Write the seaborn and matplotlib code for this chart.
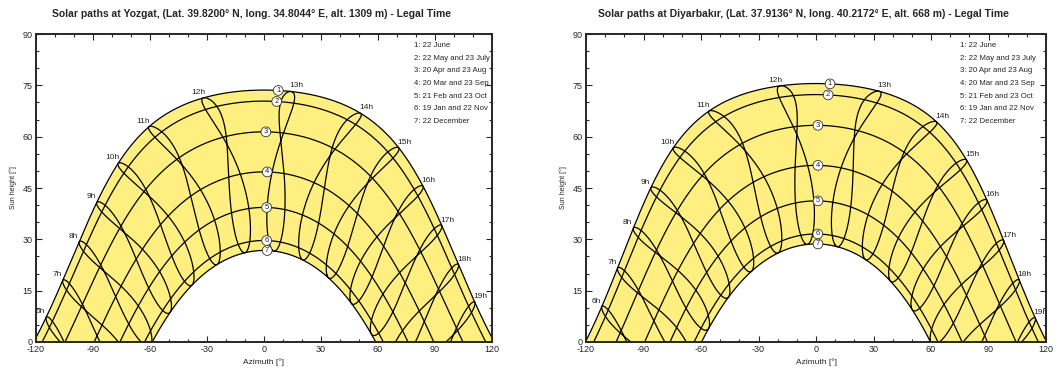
import numpy as np
import pandas as pd
import matplotlib
matplotlib.use("Agg")
import matplotlib.pyplot as plt
from matplotlib.ticker import MultipleLocator
import seaborn as sns

# ---------------- data ----------------
site_names = ["Yozgat", "Diyarbakır"]
site_lat = [39.8200, 37.9136]
site_lon = [34.8044, 40.2172]
site_elev = [1309, 668]
utc_offset_h = 3  # legal time in Turkey

date_numbers = ["1", "2", "3", "4", "5", "6", "7"]
date_day_of_year = [173, 142, 110, 79, 52, 19, 356]
date_legend = ["1: 22 June", "2: 22 May and 23 July", "3: 20 Apr and 23 Aug",
               "4: 20 Mar and 23 Sep", "5: 21 Feb and 23 Oct",
               "6: 19 Jan and 22 Nov", "7: 22 December"]
legal_hours = [6, 7, 8, 9, 10, 11, 12, 13, 14, 15, 16, 17, 18, 19]
hour_labels = [f"{h}h" for h in legal_hours]
# azimuth at which the date-number bubbles sit
bubble_az_yozgat = [7.5, 6.7, 1.0, 1.7, 1.4, 1.4, 1.7]
bubble_az_diyarbakir = [7.3, 6.3, 1.0, 1.0, 1.0, 0.9, 1.0]
bubble_az = [bubble_az_yozgat, bubble_az_diyarbakir]

FILL = "#FEEF80"

# ---------------- solar geometry ----------------
def sun_position(lat, lon, day, legal_h):
    B = 2 * np.pi * (np.asarray(day) - 1) / 365.0
    decl = (0.006918 - 0.399912 * np.cos(B) + 0.070257 * np.sin(B)
            - 0.006758 * np.cos(2 * B) + 0.000907 * np.sin(2 * B)
            - 0.002697 * np.cos(3 * B) + 0.00148 * np.sin(3 * B))
    eot = 229.18 * (0.000075 + 0.001868 * np.cos(B) - 0.032077 * np.sin(B)
                    - 0.014615 * np.cos(2 * B) - 0.040849 * np.sin(2 * B))
    solar_t = np.asarray(legal_h) - utc_offset_h + lon / 15.0 + eot / 60.0
    H = np.radians(15.0 * (solar_t - 12.0))
    phi = np.radians(lat)
    sin_alt = np.sin(phi) * np.sin(decl) + np.cos(phi) * np.cos(decl) * np.cos(H)
    alt = np.degrees(np.arcsin(sin_alt))
    az = np.degrees(np.arctan2(np.sin(H), np.cos(H) * np.sin(phi) - np.tan(decl) * np.cos(phi)))
    return az, alt


sns.set_style("ticks")
plt.rcParams["font.family"] = ["Liberation Sans", "DejaVu Sans"]
plt.rcParams["axes.unicode_minus"] = False

fig = plt.figure(figsize=(10.58, 3.71), dpi=100)
ax_rects = [[0.034, 0.0782, 0.431, 0.830], [0.5539, 0.0782, 0.4348, 0.830]]

for k in range(2):
    lat, lon = site_lat[k], site_lon[k]
    ax = fig.add_axes(ax_rects[k])

    rows = []
    t = np.linspace(2.0, 23.0, 1500)
    date_curves = []
    for i, d in enumerate(date_day_of_year):
        az, alt = sun_position(lat, lon, np.full_like(t, d), t)
        m = alt > -3
        date_curves.append((az[m], alt[m]))
        rows.append(pd.DataFrame({"az": az[m], "alt": alt[m], "curve": f"d{i}"}))
    days = np.linspace(1, 366, 1461)
    ana = []
    for h in legal_hours:
        az, alt = sun_position(lat, lon, days, np.full(days.shape, float(h)))
        ana.append((az, alt))
        rows.append(pd.DataFrame({"az": az, "alt": alt, "curve": f"h{h}"}))
    df = pd.concat(rows, ignore_index=True)

    # yellow region between June and December paths
    jaz, jalt = date_curves[0]
    daz, dalt = date_curves[-1]
    grid = np.linspace(-125, 125, 2000)
    upper = np.clip(np.interp(grid, jaz, jalt), 0, None)
    lower = np.clip(np.interp(grid, daz, dalt, left=0, right=0), 0, None)
    ax.fill_between(grid, lower, upper, color=FILL, lw=0, zorder=1)

    sns.lineplot(data=df, x="az", y="alt", units="curve", estimator=None,
                 sort=False, color="black", lw=0.9, ax=ax, zorder=2, legend=False)

    # date bubbles
    for i, lab in enumerate(date_numbers):
        caz, calt = date_curves[i]
        a = bubble_az[k][i]
        y = np.interp(a, caz, calt)
        ax.text(a, y, lab, fontsize=5.5, ha="center", va="center", zorder=5,
                bbox=dict(boxstyle="circle,pad=0.18", fc="white", ec="#333333", lw=0.6))

    # hour labels at June 22 point
    june_idx = int(np.argmin(np.abs(days - date_day_of_year[0])))
    for h, lab, (az, alt) in zip(legal_hours, hour_labels, ana):
        x, y = az[june_idx], alt[june_idx]
        if alt.max() < 0:
            continue
        dx = -4 if x < 0 else 4
        ax.annotate(lab, (x, y), xytext=(dx, 1.5), textcoords="offset points",
                    ha="center", va="bottom", fontsize=6, zorder=6)

    # legend of dates
    lx = 0.83 if k == 0 else 0.813
    for i, txt in enumerate(date_legend):
        ax.text(lx, 0.963 - i * 0.0412, txt, transform=ax.transAxes, fontsize=5.6,
                ha="left", va="center", zorder=6)

    ax.set_xlim(-120, 120)
    ax.set_ylim(0, 90)
    ax.xaxis.set_major_locator(MultipleLocator(30))
    ax.xaxis.set_minor_locator(MultipleLocator(10))
    ax.yaxis.set_major_locator(MultipleLocator(15))
    ax.yaxis.set_minor_locator(MultipleLocator(5))
    ax.tick_params(which="both", direction="in", top=True, right=True,
                   labelsize=6.5, width=0.8, pad=2.5)
    ax.tick_params(which="major", length=4)
    ax.tick_params(which="minor", length=2.5)
    for s in ax.spines.values():
        s.set_linewidth(1.4)
        s.set_zorder(10)
    ax.set_xlabel("Azimuth [°]", fontsize=6)
    ax.set_ylabel("Sun height [°]", fontsize=5)
    ax.xaxis.set_label_coords(0.5, -0.052)
    ax.yaxis.set_label_coords(-0.042, 0.5)
    ax.set_title(f"Solar paths at {site_names[k]}, (Lat. {lat:.4f}° N, long. {lon:.4f}° E, "
                 f"alt. {site_elev[k]} m) - Legal Time",
                 fontsize=7.5, fontweight="bold", pad=12, x=0.472)

fig.savefig("out.png", dpi=100)
